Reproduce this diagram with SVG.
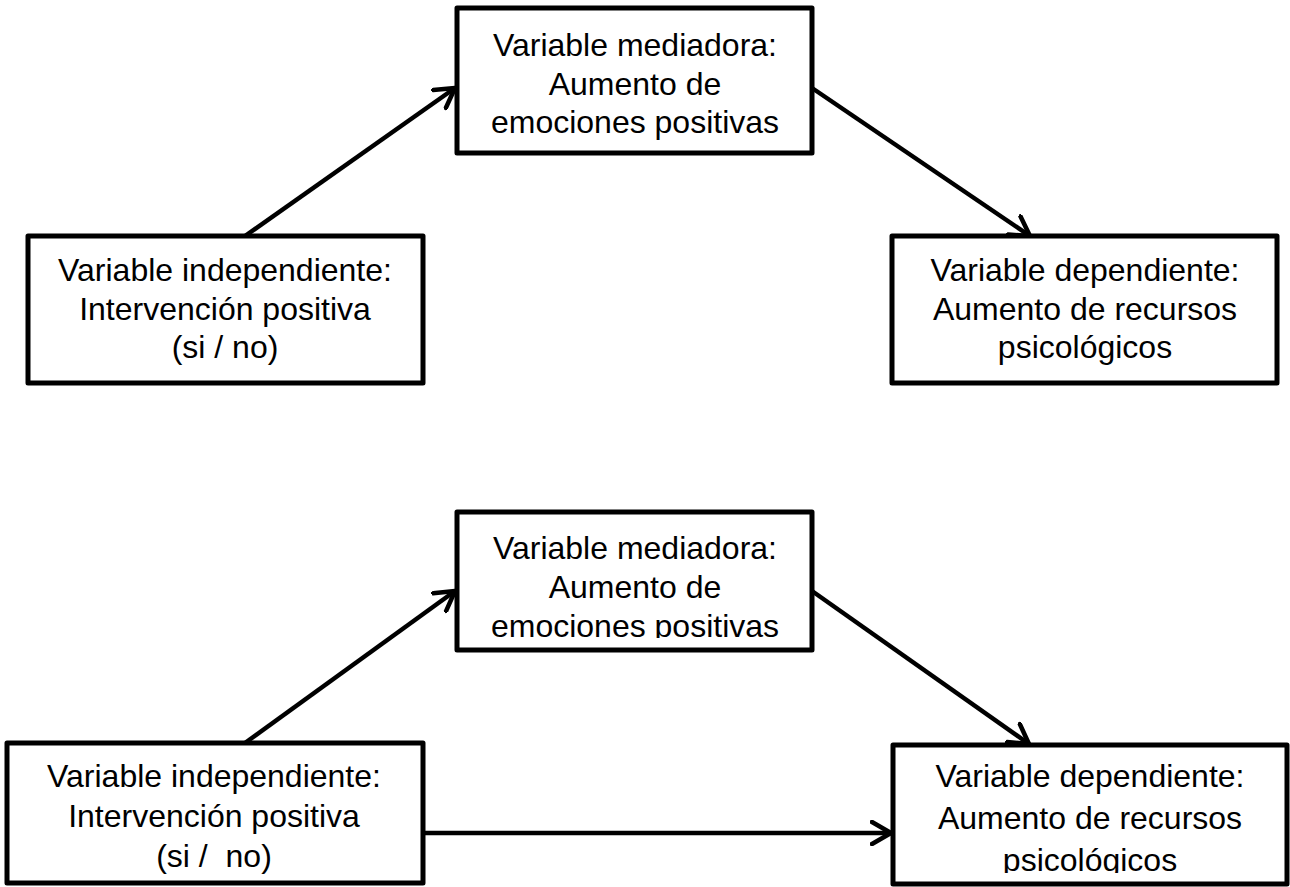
<svg xmlns="http://www.w3.org/2000/svg" width="1290" height="887" viewBox="0 0 1290 887">
<style>
.box{fill:#fff;stroke:#000;stroke-width:5;stroke-linejoin:round}
.t{font-family:"Liberation Sans",Arial,sans-serif;font-size:32px;fill:#000;text-anchor:middle}
.c{fill:none;stroke:#000;stroke-width:4.5;marker-end:url(#ah)}
</style>
<defs>
<marker id="ah" viewBox="0 0 24 26" refX="21" refY="13" markerWidth="24" markerHeight="26" markerUnits="userSpaceOnUse" orient="auto">
<path d="M2,2 L21,13 L2,24" fill="none" stroke="#000" stroke-width="4.5" stroke-linecap="round" stroke-linejoin="round"/>
</marker>
<clipPath id="clipM2"><rect x="457" y="512" width="355" height="126"/></clipPath>
<clipPath id="clipD2"><rect x="892" y="743" width="395" height="130"/></clipPath>
</defs>
<g id="connectors">
<line class="c" x1="245" y1="236" x2="455" y2="88"/>
<line class="c" x1="812" y1="88" x2="1030" y2="236"/>
<line class="c" x1="245" y1="743" x2="455" y2="591"/>
<line class="c" x1="812" y1="591" x2="1029" y2="744"/>
<line class="c" x1="421" y1="833" x2="891" y2="833"/>
</g>
<g id="med1">
<rect class="box" x="457" y="8" width="355" height="145"/>
<text class="t" x="635" y="56">Variable mediadora:</text>
<text class="t" x="635" y="95">Aumento de</text>
<text class="t" x="635" y="133">emociones positivas</text>
</g>
<g id="ind1">
<rect class="box" x="28" y="236" width="395" height="147"/>
<text class="t" x="225" y="281">Variable independiente:</text>
<text class="t" x="225" y="320">Intervención positiva</text>
<text class="t" x="225" y="358">(si / no)</text>
</g>
<g id="dep1">
<rect class="box" x="892" y="236" width="385" height="147"/>
<text class="t" x="1085" y="281">Variable dependiente:</text>
<text class="t" x="1085" y="320">Aumento de recursos</text>
<text class="t" x="1085" y="358">psicológicos</text>
</g>
<g id="med2">
<rect class="box" x="457" y="512" width="355" height="138"/>
<g clip-path="url(#clipM2)">
<text class="t" x="635" y="559">Variable mediadora:</text>
<text class="t" x="635" y="598">Aumento de</text>
<text class="t" x="635" y="637">emociones positivas</text>
</g>
</g>
<g id="ind2">
<rect class="box" x="7" y="743" width="416" height="140"/>
<text class="t" x="214" y="787">Variable independiente:</text>
<text class="t" x="214" y="827">Intervención positiva</text>
<text class="t" x="214" y="867" xml:space="preserve">(si /  no)</text>
</g>
<g id="dep2">
<rect class="box" x="893" y="745" width="394" height="139"/>
<g clip-path="url(#clipD2)">
<text class="t" x="1090" y="787">Variable dependiente:</text>
<text class="t" x="1090" y="829">Aumento de recursos</text>
<text class="t" x="1090" y="871">psicológicos</text>
</g>
</g>
</svg>
